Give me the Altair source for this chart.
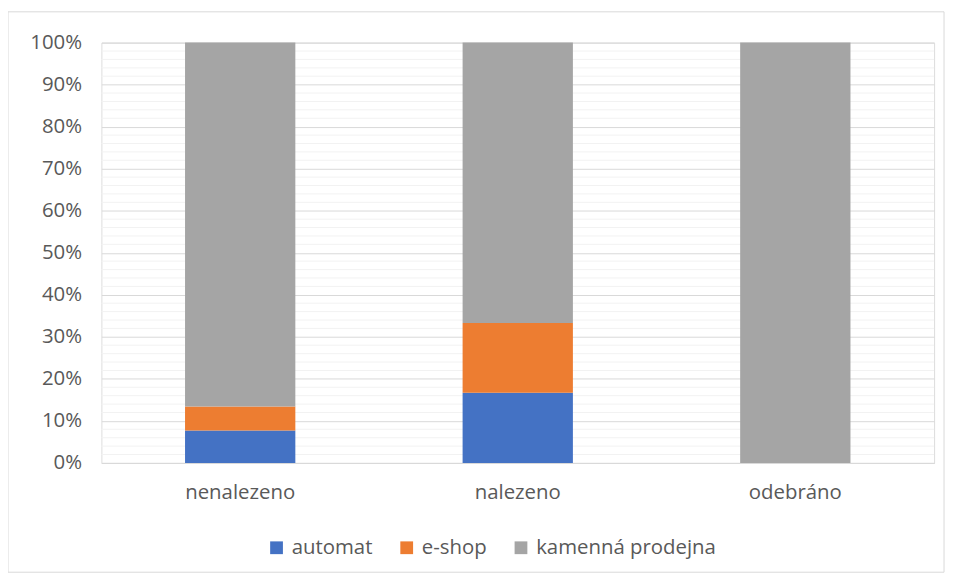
import altair as alt
import pandas as pd

categories = ["nenalezeno", "nalezeno", "odebráno"]
series = ["automat", "e-shop", "kamenná prodejna"]
automat = [0.077, 0.167, 0.0]
eshop = [0.057, 0.166, 0.0]
kamenna = [0.866, 0.667, 1.0]
colors = ["#4472C4", "#ED7D31", "#A5A5A5"]
major_ticks = [i / 10 for i in range(11)]
minor_ticks = [i / 50 for i in range(1, 50) if i % 5 != 0]

rows = []
for ci, c in enumerate(categories):
    for si, (s, vals) in enumerate(zip(series, [automat, eshop, kamenna])):
        rows.append({"kategorie": c, "serie": s, "hodnota": vals[ci], "poradi": si})
df = pd.DataFrame(rows)

FONT = "Open Sans"
TXT = "#595959"
FS = 20.5

minor = alt.Chart(pd.DataFrame({"v": minor_ticks})).mark_rule(
    color="#F2F2F2", strokeWidth=1
).encode(y=alt.Y("v:Q", scale=alt.Scale(domain=[0, 1])))

bars = alt.Chart(df).mark_bar(size=111).encode(
    x=alt.X("kategorie:N", sort=categories, title=None,
            scale=alt.Scale(paddingInner=0, paddingOuter=0),
            axis=alt.Axis(labelAngle=0, ticks=False, domainColor="#D9D9D9",
                          labelPadding=20, labelFontSize=FS, labelColor=TXT,
                          labelFont=FONT)),
    y=alt.Y("hodnota:Q", stack="normalize", title=None,
            scale=alt.Scale(domain=[0, 1]),
            axis=alt.Axis(values=major_ticks, format=".0%", domain=False,
                          ticks=False, gridColor="#D9D9D9", labelPadding=20,
                          labelFontSize=FS, labelColor=TXT, labelFont=FONT)),
    color=alt.Color("serie:N", sort=series,
                    scale=alt.Scale(domain=series, range=colors),
                    legend=alt.Legend(title=None, orient="none", direction="horizontal",
                                      legendX=166, legendY=498, symbolType="square",
                                      symbolSize=165, symbolStrokeWidth=0,
                                      labelFontSize=FS, labelColor=TXT, labelFont=FONT,
                                      labelLimit=400,
                                      columnPadding=24, labelOffset=5)),
    order=alt.Order("poradi:Q", sort="ascending"),
)

border = alt.Chart(pd.DataFrame({"a": [0]})).mark_rect(
    fill=None, stroke="#D9D9D9", strokeWidth=1
).encode(x=alt.value(-94), x2=alt.value(848), y=alt.value(-31), y2=alt.value(533))

chart = alt.layer(minor, bars, border).properties(
    width=838, height=423,
    autosize=alt.AutoSizeParams(type="none"),
    padding={"left": 94, "top": 33, "right": 15, "bottom": 118},
).configure_view(stroke=None).configure(background="white")

chart.save("out.html", embed_options={"renderer": "svg", "actions": False})
